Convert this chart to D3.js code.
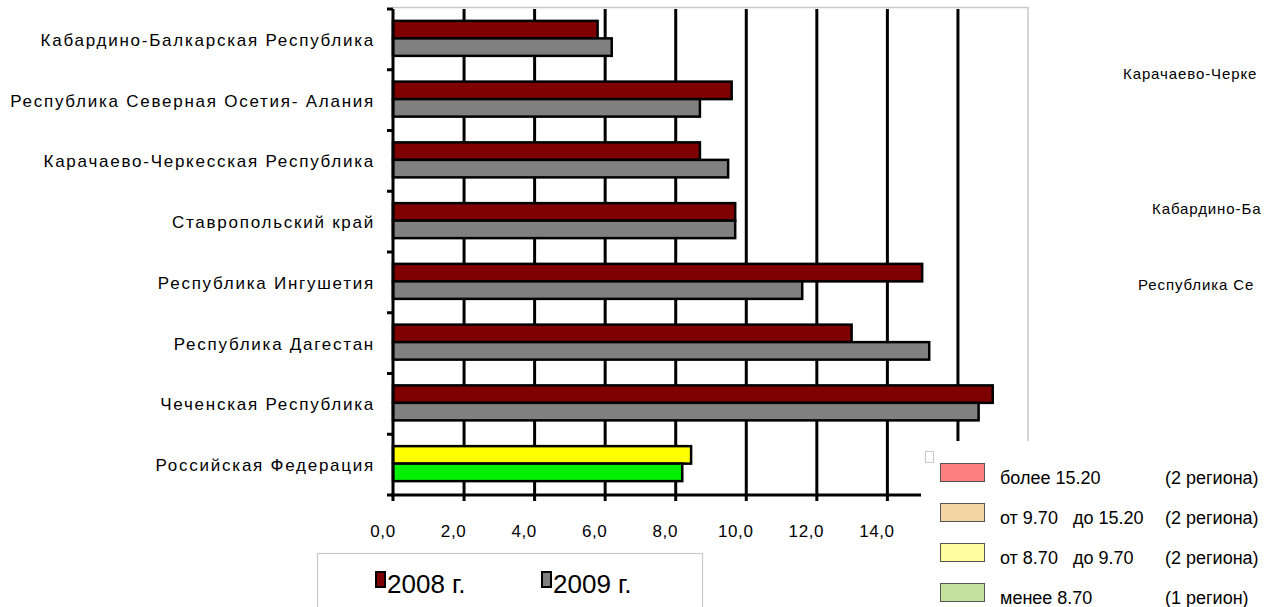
<!DOCTYPE html>
<html>
<head>
<meta charset="utf-8">
<script src="https://cdn.jsdelivr.net/npm/d3@7"></script>
<style>
  html, body { margin: 0; padding: 0; background: #fff; }
  svg { display: block; font-family: "Liberation Sans", Arial, sans-serif; }
</style>
</head>
<body>
<svg id="chart" width="1264" height="607"></svg>
<script>
// ---- data ----
const categories = [
  "Кабардино-Балкарская Республика",
  "Республика Северная Осетия- Алания",
  "Карачаево-Черкесская Республика",
  "Ставропольский край",
  "Республика Ингушетия",
  "Республика Дагестан",
  "Чеченская Республика",
  "Российская Федерация"
];
const seriesNames = ["2008 г.", "2009 г."];
const values2008 = [5.8, 9.6, 8.7, 9.7, 15.0, 13.0, 17.0, 8.45];
const values2009 = [6.2, 8.7, 9.5, 9.7, 11.6, 15.2, 16.6, 8.2];
const xTickValues = [0, 2, 4, 6, 8, 10, 12, 14, 16, 18];
const xTickLabelValues = [0, 2, 4, 6, 8, 10, 12, 14];
const rangeLabels = ["более 15.20", "от 9.70   до 15.20", "от 8.70   до 9.70", "менее 8.70"];
const rangeCounts = ["(2 региона)", "(2 региона)", "(2 региона)", "(1 регион)"];
const mapLabels = ["Карачаево-Черке", "Кабардино-Ба", "Республика Се"];

// ---- layout / styles ----
const svg = d3.select("#chart");
const plot = { left: 393, right: 1028, top: 9, bottom: 495 };
const seriesFill = ["#7f0000", "#808080"];
const highlightFill = ["#ffff00", "#00ee00"];
const rangeFill = ["#ff8080", "#f3d4a3", "#ffffa0", "#c6e0a0"];

const x = d3.scaleLinear().domain([0, 18]).range([plot.left, plot.right]);
const y = d3.scaleBand().domain(categories).range([plot.top, plot.bottom]).padding(0);
const groupH = 35;
const ySub = d3.scaleBand().domain(seriesNames).range([0, groupH]).padding(0);
const groupOff = (y.bandwidth() - groupH) / 2 - 1;

// plot border (top & right, light grey)
svg.append("path")
  .attr("d", `M${plot.left},${plot.top - 1.5}H${plot.right}V${plot.bottom}`)
  .attr("fill", "none").attr("stroke", "#c8c8c8").attr("stroke-width", 1.5);

// gridlines + bottom ticks
const xAxis = d3.axisBottom(x).tickValues(xTickValues.filter(v => v > 0 && v < 18))
  .tickSize(-(plot.bottom - plot.top)).tickFormat("");
const grid = svg.append("g").attr("transform", `translate(0,${plot.bottom})`).call(xAxis);
grid.select(".domain").remove();
grid.selectAll("line").attr("stroke", "#000").attr("stroke-width", 3);
grid.selectAll(".tick").append("line").attr("y1", 0).attr("y2", 6)
  .attr("stroke", "#000").attr("stroke-width", 3);

// x tick labels (16 and 18 are hidden under the legend panel in the reference)
const fmt = v => d3.format(".1f")(v).replace(".", ",");
svg.append("g").selectAll("text").data(xTickLabelValues).join("text")
  .attr("x", d => x(d) - 10).attr("y", 537)
  .attr("text-anchor", "middle").attr("font-size", 17).attr("letter-spacing", 0.6)
  .attr("fill", "#000").text(fmt);

// bars
const groups = svg.append("g").selectAll("g").data(categories).join("g")
  .attr("transform", d => `translate(0,${y(d) + groupOff})`);
groups.each(function(cat, i) {
  const g = d3.select(this);
  const vals = [values2008[i], values2009[i]];
  const isRF = cat === "Российская Федерация";
  g.selectAll("rect").data(vals).join("rect")
    .attr("x", x(0))
    .attr("y", (d, j) => ySub(seriesNames[j]))
    .attr("width", d => x(d) - x(0))
    .attr("height", ySub.bandwidth())
    .attr("fill", (d, j) => isRF ? highlightFill[j] : seriesFill[j])
    .attr("stroke", "#000").attr("stroke-width", 2.5);
});

// left axis line and ticks
svg.append("line").attr("x1", x(0)).attr("x2", x(0)).attr("y1", plot.top).attr("y2", plot.bottom + 6)
  .attr("stroke", "#000").attr("stroke-width", 3);
svg.append("line").attr("x1", x(0) - 2).attr("x2", plot.right).attr("y1", plot.bottom).attr("y2", plot.bottom)
  .attr("stroke", "#000").attr("stroke-width", 3);
const bounds = categories.map(c => y(c)).concat([plot.bottom]);
svg.append("g").selectAll("line").data(bounds).join("line")
  .attr("x1", x(0) - 6).attr("x2", x(0)).attr("y1", d => d).attr("y2", d => d)
  .attr("stroke", "#000").attr("stroke-width", 3);

// category labels
svg.append("g").selectAll("text").data(categories).join("text")
  .attr("x", 375).attr("y", d => y(d) + y.bandwidth() / 2 + 2)
  .attr("dominant-baseline", "middle").attr("text-anchor", "end")
  .attr("font-size", 17).attr("letter-spacing", 1.75).attr("fill", "#000")
  .text(d => d);

// right legend panel (covers part of plot)
svg.append("rect").attr("x", 921).attr("y", 441).attr("width", 343).attr("height", 166).attr("fill", "#fff");
svg.append("rect").attr("x", 925.5).attr("y", 451.5).attr("width", 8).attr("height", 11)
  .attr("fill", "#fff").attr("stroke", "#c8c8c8").attr("stroke-width", 1);
const rl = svg.append("g").selectAll("g").data(rangeLabels).join("g")
  .attr("transform", (d, i) => `translate(0,${463 + i * 40})`);
rl.append("rect").attr("x", 940.5).attr("y", 0.5).attr("width", 44).attr("height", 18)
  .attr("fill", (d, i) => rangeFill[i]).attr("stroke", "#555").attr("stroke-width", 1);
rl.append("text").attr("x", 1000).attr("y", 21).attr("font-size", 18).attr("fill", "#000")
  .attr("xml:space", "preserve").style("white-space", "pre").text(d => d);
rl.append("text").attr("x", 1165).attr("y", 21).attr("font-size", 18).attr("fill", "#000")
  .text((d, i) => rangeCounts[i]);

// map labels at right edge
const mapPos = [[1123, 79], [1152, 214], [1138, 290]];
svg.append("g").selectAll("text").data(mapLabels).join("text")
  .attr("x", (d, i) => mapPos[i][0]).attr("y", (d, i) => mapPos[i][1])
  .attr("font-size", 15).attr("letter-spacing", 0.9).attr("fill", "#000").text(d => d);

// bottom series legend
svg.append("rect").attr("x", 317.5).attr("y", 553.5).attr("width", 385).attr("height", 60)
  .attr("fill", "#fff").attr("stroke", "#c8c8c8").attr("stroke-width", 1.2);
const lg = svg.append("g").selectAll("g").data(seriesNames).join("g")
  .attr("transform", (d, i) => `translate(${376 + i * 166},0)`);
lg.append("rect").attr("x", 0).attr("y", 572).attr("width", 9).attr("height", 15)
  .attr("fill", (d, i) => seriesFill[i]).attr("stroke", "#000").attr("stroke-width", 2);
lg.append("text").attr("x", 11).attr("y", 593).attr("font-size", 26).attr("fill", "#000").text(d => d);
</script>
</body>
</html>
